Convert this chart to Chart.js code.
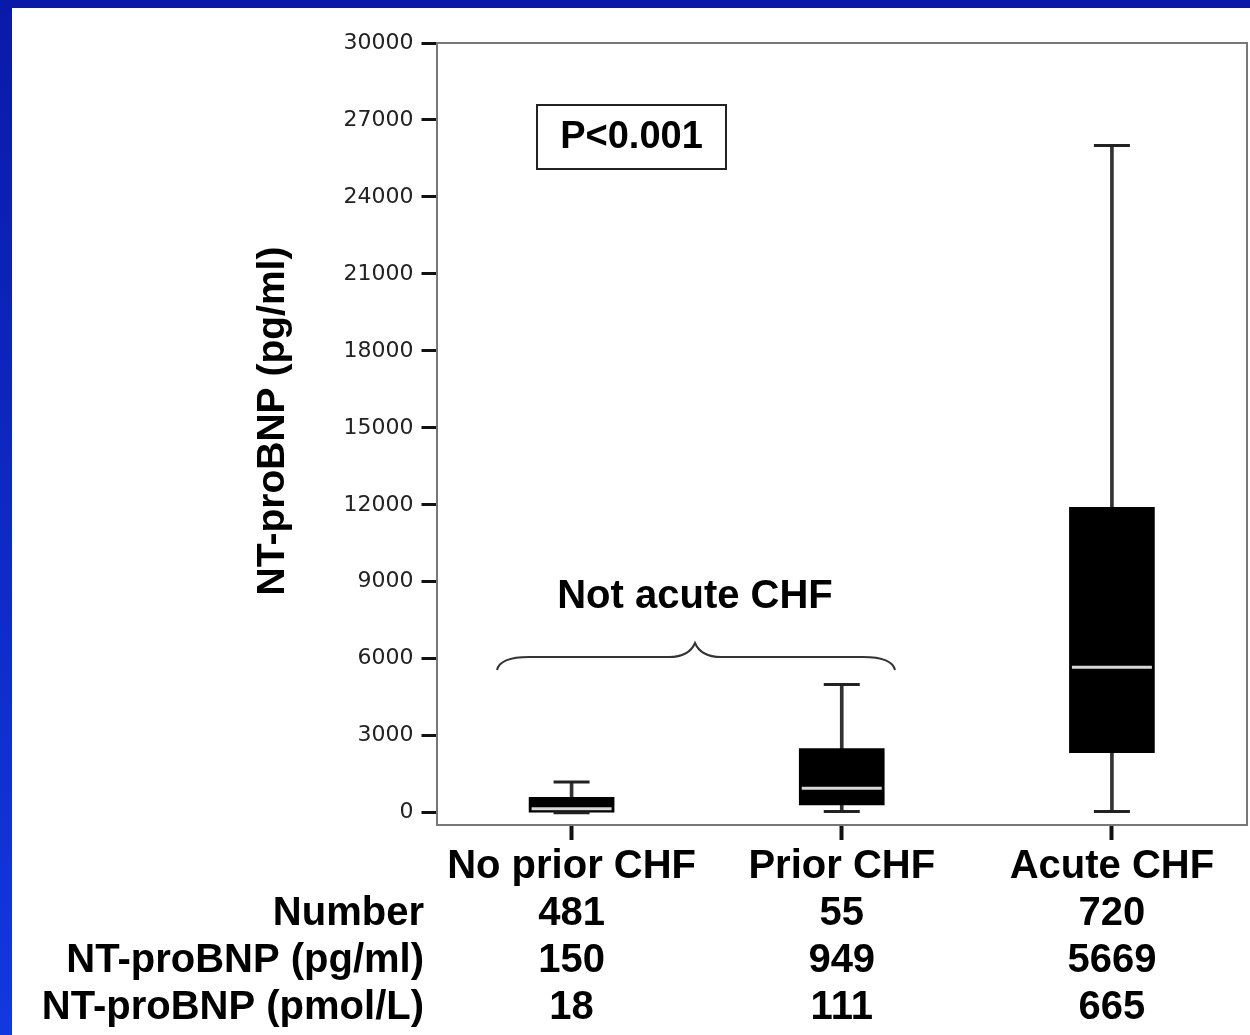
<!DOCTYPE html>
<html>
<head>
<meta charset="utf-8">
<script src="https://cdn.jsdelivr.net/npm/chart.js@4.4.1/dist/chart.umd.min.js"></script>
<style>
  html, body { margin: 0; padding: 0; }
  body { width: 1250px; height: 1035px; overflow: hidden; position: relative;
         background: linear-gradient(180deg, #0a1aa8, #1238e0); }
  #panel { position: absolute; left: 12px; top: 8px; width: 1238px; height: 1027px; background: #fff; }
  canvas { display: block; }
</style>
</head>
<body>
<div id="panel"><canvas id="chart_box" width="1238" height="1027" style="width:1238px;height:1027px"></canvas></div>
<script>
// groups and table under the axis
const categories = ['No prior CHF', 'Prior CHF', 'Acute CHF'];
const rowLabels = ['Number', 'NT-proBNP (pg/ml)', 'NT-proBNP (pmol/L)'];
const numbers = ['481', '55', '720'];
const medianPg = ['150', '949', '5669'];
const medianPmol = ['18', '111', '665'];

// box plot values (pg/ml)
const whiskerLow = [0, 50, 50];
const boxLow = [20, 300, 2340];
const medians = [150, 949, 5669];
const boxHigh = [600, 2500, 11900];
const whiskerHigh = [1200, 5000, 26000];

const yTicks = [0, 3000, 6000, 9000, 12000, 15000, 18000, 21000, 24000, 27000, 30000];

const boldFont = "bold 40px 'Liberation Sans', Arial, sans-serif";

const annotations = {
  id: 'annotations',
  afterDraw(chart) {
    const ctx = chart.ctx;
    const ca = chart.chartArea;
    const xs = chart.scales.x;
    ctx.save();

    // top and right edges of the frame
    ctx.strokeStyle = '#777';
    ctx.lineWidth = 2;
    ctx.beginPath();
    ctx.moveTo(ca.left, ca.top);
    ctx.lineTo(ca.right, ca.top);
    ctx.lineTo(ca.right, ca.bottom);
    ctx.stroke();

    // P value box
    ctx.strokeStyle = '#222';
    ctx.lineWidth = 2;
    ctx.strokeRect(ca.left + 100.5, ca.top + 62, 189, 64);
    ctx.fillStyle = '#000';
    ctx.font = "bold 38px 'Liberation Sans', Arial, sans-serif";
    ctx.textAlign = 'center';
    ctx.textBaseline = 'middle';
    ctx.fillText('P<0.001', ca.left + 195, ca.top + 95);

    // group label with brace
    ctx.font = boldFont;
    ctx.fillText('Not acute CHF', ca.left + 258.5, ca.top + 554);

    const lx = ca.left + 60.5, px = ca.left + 258.5, rx = ca.left + 458.5;
    const endY = ca.top + 627, lineY = ca.top + 614, peakY = ca.top + 600;
    ctx.strokeStyle = '#333';
    ctx.lineWidth = 2;
    ctx.beginPath();
    ctx.moveTo(lx, endY);
    ctx.quadraticCurveTo(lx + 3, lineY, lx + 32, lineY);
    ctx.lineTo(px - 26, lineY);
    ctx.quadraticCurveTo(px - 6, lineY, px, peakY);
    ctx.quadraticCurveTo(px + 6, lineY, px + 26, lineY);
    ctx.lineTo(rx - 32, lineY);
    ctx.quadraticCurveTo(rx - 3, lineY, rx, endY);
    ctx.stroke();

    // y axis title
    ctx.save();
    ctx.translate(ca.left - 163.5, ca.top + 378);
    ctx.rotate(-Math.PI / 2);
    ctx.font = "bold 39px 'Liberation Sans', Arial, sans-serif";
    ctx.fillText('NT-proBNP (pg/ml)', 0, 0);
    ctx.restore();

    // row labels of the table
    ctx.font = boldFont;
    ctx.textAlign = 'right';
    rowLabels.forEach((t, i) => {
      ctx.fillText(t, ca.left - 12.5, xs.top + 15 + 3.5 + 23.5 + (i + 1) * 47);
    });
    ctx.restore();
  }
};

const capPoint = {
  type: 'line',
  showLine: false,
  pointStyle: 'line',
  pointRadius: 18,
  pointHoverRadius: 18,
  pointBorderWidth: 3,
  pointBorderColor: '#222',
  order: 1
};

new Chart(document.getElementById('chart_box'), {
  type: 'bar',
  data: {
    labels: categories,
    datasets: [{
      label: 'whisker',
      data: categories.map((c, i) => [whiskerLow[i], whiskerHigh[i]]),
      backgroundColor: '#333',
      barThickness: 3,
      grouped: false,
      order: 3
    }, {
      label: 'box',
      data: categories.map((c, i) => [boxLow[i], boxHigh[i]]),
      backgroundColor: '#000',
      barThickness: 85,
      grouped: false,
      order: 2
    }, Object.assign({ label: 'max', data: whiskerHigh }, capPoint),
       Object.assign({ label: 'min', data: whiskerLow }, capPoint),
    {
      type: 'line',
      label: 'median',
      data: medians,
      showLine: false,
      pointStyle: 'line',
      pointRadius: 40,
      pointHoverRadius: 40,
      pointBorderWidth: 3,
      pointBorderColor: '#d8d8d8',
      order: 0
    }]
  },
  options: {
    responsive: false,
    animation: false,
    events: [],
    layout: { autoPadding: false, padding: { top: 35, right: 3, left: 0, bottom: 0 } },
    plugins: {
      legend: { display: false },
      tooltip: { enabled: false }
    },
    scales: {
      x: {
        offset: true,
        afterFit: s => {
          s.height = 210;
          s.paddingLeft = 0; s.paddingRight = 0; s.paddingTop = 0; s.paddingBottom = 0;
        },
        grid: { offset: false, drawOnChartArea: false, tickLength: 15, tickWidth: 4, tickColor: '#111' },
        border: { color: '#777', width: 2 },
        ticks: {
          autoSkip: false,
          maxRotation: 0,
          padding: 3.5,
          color: '#000',
          font: { family: "'Liberation Sans', Arial, sans-serif", size: 40, weight: 'bold', lineHeight: 47 / 40 },
          callback: (v, i) => [categories[i], numbers[i], medianPg[i], medianPmol[i]]
        }
      },
      y: {
        min: -480,
        max: 30000,
        afterFit: s => {
          s.width = 424.5;
          s.paddingLeft = 0; s.paddingRight = 0; s.paddingTop = 0; s.paddingBottom = 0;
        },
        afterBuildTicks: s => { s.ticks = yTicks.map(v => ({ value: v })); },
        grid: { drawOnChartArea: false, tickLength: 15, tickWidth: 3, tickColor: '#111' },
        border: { color: '#777', width: 2 },
        ticks: {
          padding: 8,
          color: '#222',
          font: { family: "'DejaVu Sans', sans-serif", size: 22 },
          callback: v => String(v)
        }
      }
    }
  },
  plugins: [annotations]
});
</script>
</body>
</html>
